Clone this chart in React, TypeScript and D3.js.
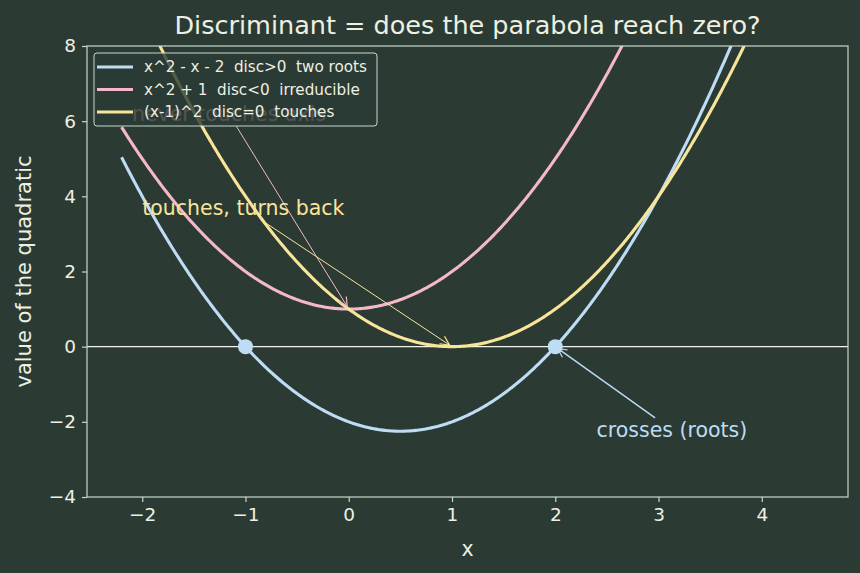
import * as d3 from "d3"
import { useEffect, useRef } from "react"

// quadratic coefficients [a, b, c]
const curveNames = [
  "x^2 - x - 2  disc>0  two roots",
  "x^2 + 1  disc<0  irreducible",
  "(x-1)^2  disc=0  touches",
]
const curveCoefs = [
  [1, -1, -2],
  [1, 0, 1],
  [1, -2, 1],
]
const curveColors = ["#bfdcf5", "#f5b8c8", "#f9e59a"]
const xDomain = [-2.2, 4.5]
const yTicks = [-4, -2, 0, 2, 4, 6, 8]
const xTicks = [-2, -1, 0, 1, 2, 3, 4]
const rootPoints = [-1, 2]

// annotations: text position (data), arrow target (data), colour index
const notes = [
  { text: "never touches axis", tx: -2.1, ty: 6, ax: 0, ay: 1, c: 1 },
  { text: "touches, turns back", tx: -2.0, ty: 3.5, ax: 1, ay: 0, c: 2 },
  { text: "crosses (roots)", tx: 2.4, ty: -2.4, ax: 2, ay: 0, c: 0 },
]

const BG = "#2b3b34"
const FG = "#eef0e2"
const SPINE = "#c8d8cc"

export default function App() {
  const svgRef = useRef<SVGSVGElement | null>(null)

  useEffect(() => {
    if (!svgRef.current) return
    const svg = d3.select(svgRef.current)
    svg.selectAll("*").remove()

    const W = 860
    const H = 573
    const m = { top: 46, right: 12, bottom: 76, left: 87 }
    const width = W - m.left - m.right
    const height = H - m.top - m.bottom
    const font = "'DejaVu Sans', sans-serif"

    svg.append("rect").attr("width", W).attr("height", H).attr("fill", BG)

    const pad = (xDomain[1] - xDomain[0]) * 0.05
    const x = d3
      .scaleLinear()
      .domain([xDomain[0] - pad, xDomain[1] + pad])
      .range([0, width])
    const y = d3.scaleLinear().domain([-4, 8]).range([height, 0])

    const g = svg.append("g").attr("transform", `translate(${m.left},${m.top})`)

    g.append("defs")
      .append("clipPath")
      .attr("id", "plotclip")
      .append("rect")
      .attr("width", width)
      .attr("height", height)

    const defs = svg.append("defs")
    curveColors.forEach((c, i) => {
      defs
        .append("marker")
        .attr("id", `arr${i}`)
        .attr("viewBox", "-10 -6 12 12")
        .attr("refX", 0)
        .attr("refY", 0)
        .attr("markerWidth", 12)
        .attr("markerHeight", 12)
        .attr("markerUnits", "userSpaceOnUse")
        .attr("orient", "auto")
        .append("path")
        .attr("d", "M-9,-4.5 L0,0 L-9,4.5")
        .attr("fill", "none")
        .attr("stroke", c)
        .attr("stroke-width", 1.2)
    })

    const plot = g.append("g").attr("clip-path", "url(#plotclip)")

    // zero line
    plot
      .append("line")
      .attr("x1", 0)
      .attr("x2", width)
      .attr("y1", y(0))
      .attr("y2", y(0))
      .attr("stroke", "#f2f4ec")
      .attr("stroke-width", 1.4)

    const xs = d3.range(0, 401).map((i) => xDomain[0] + ((xDomain[1] - xDomain[0]) * i) / 400)
    const line = d3
      .line<[number, number]>()
      .x((d) => x(d[0]))
      .y((d) => y(d[1]))

    curveCoefs.forEach(([a, b, c], i) => {
      const pts = xs.map((v) => [v, a * v * v + b * v + c] as [number, number])
      plot
        .append("path")
        .attr("d", line(pts))
        .attr("fill", "none")
        .attr("stroke", curveColors[i])
        .attr("stroke-width", 3.1)
    })

    plot
      .selectAll(".root")
      .data(rootPoints)
      .enter()
      .append("circle")
      .attr("cx", (d) => x(d))
      .attr("cy", y(0))
      .attr("r", 7.5)
      .attr("fill", curveColors[0])

    // annotations
    notes.forEach((n) => {
      const t = g
        .append("text")
        .attr("x", x(n.tx))
        .attr("y", y(n.ty))
        .attr("fill", curveColors[n.c])
        .style("font", `20.5px ${font}`)
        .text(n.text)
      const bb = (t.node() as SVGTextElement).getBBox()
      const cx = bb.x + bb.width / 2
      const cy = bb.y + bb.height / 2
      const tx = x(n.ax)
      const ty = y(n.ay)
      // start where the line leaves the text box
      const dx = tx - cx
      const dy = ty - cy
      const s = Math.min(
        dx !== 0 ? bb.width / 2 / Math.abs(dx) : Infinity,
        dy !== 0 ? bb.height / 2 / Math.abs(dy) : Infinity,
      )
      const len = Math.hypot(dx, dy)
      const shrink = 3 / len
      g.append("line")
        .attr("x1", cx + dx * s)
        .attr("y1", cy + dy * s)
        .attr("x2", tx - dx * shrink)
        .attr("y2", ty - dy * shrink)
        .attr("stroke", curveColors[n.c])
        .attr("stroke-width", n.c === 0 ? 1.4 : 1)
        .attr("marker-end", `url(#arr${n.c})`)
    })

    // axes
    const fmt = (d: d3.NumberValue) => d3.format("d")(d as number).replace("-", "−")
    const xAxis = g
      .append("g")
      .attr("transform", `translate(0,${height})`)
      .call(d3.axisBottom(x).tickValues(xTicks).tickSize(5).tickPadding(6).tickFormat(fmt))
    const yAxis = g
      .append("g")
      .call(d3.axisLeft(y).tickValues(yTicks).tickSize(5).tickPadding(6).tickFormat(fmt))
    ;[xAxis, yAxis].forEach((ax) => {
      ax.select(".domain").remove()
      ax.selectAll(".tick line").attr("stroke", SPINE).attr("stroke-width", 1.2)
      ax.selectAll(".tick text").attr("fill", FG).style("font", `18.5px ${font}`)
    })

    g.append("rect")
      .attr("width", width)
      .attr("height", height)
      .attr("fill", "none")
      .attr("stroke", SPINE)
      .attr("stroke-width", 1.2)

    // legend
    const lg = g.append("g").attr("transform", "translate(7,7)")
    lg.append("rect")
      .attr("width", 283)
      .attr("height", 73)
      .attr("rx", 3)
      .attr("fill", BG)
      .attr("fill-opacity", 0.8)
      .attr("stroke", SPINE)
      .attr("stroke-width", 1)
    curveNames.forEach((name, i) => {
      const yy = 14 + i * 22.5
      lg.append("line")
        .attr("x1", 3)
        .attr("x2", 39)
        .attr("y1", yy)
        .attr("y2", yy)
        .attr("stroke", curveColors[i])
        .attr("stroke-width", 3.1)
      lg.append("text")
        .attr("x", 50)
        .attr("y", yy + 5)
        .attr("fill", FG)
        .style("font", `15.2px ${font}`)
        .style("white-space", "pre")
        .text(name)
    })

    // labels
    svg
      .append("text")
      .attr("x", m.left + width / 2)
      .attr("y", 34)
      .attr("text-anchor", "middle")
      .attr("fill", FG)
      .style("font", `25.5px ${font}`)
      .text("Discriminant = does the parabola reach zero?")
    svg
      .append("text")
      .attr("x", m.left + width / 2)
      .attr("y", 556)
      .attr("text-anchor", "middle")
      .attr("fill", FG)
      .style("font", `20.5px ${font}`)
      .text("x")
    svg
      .append("text")
      .attr("transform", `translate(31,${m.top + height / 2}) rotate(-90)`)
      .attr("text-anchor", "middle")
      .attr("fill", FG)
      .style("font", `21px ${font}`)
      .text("value of the quadratic")
  }, [])

  return (
    <svg
      ref={svgRef}
      width={860}
      height={573}
      style={{ position: "absolute", left: 0, top: 0, display: "block" }}
    />
  )
}
